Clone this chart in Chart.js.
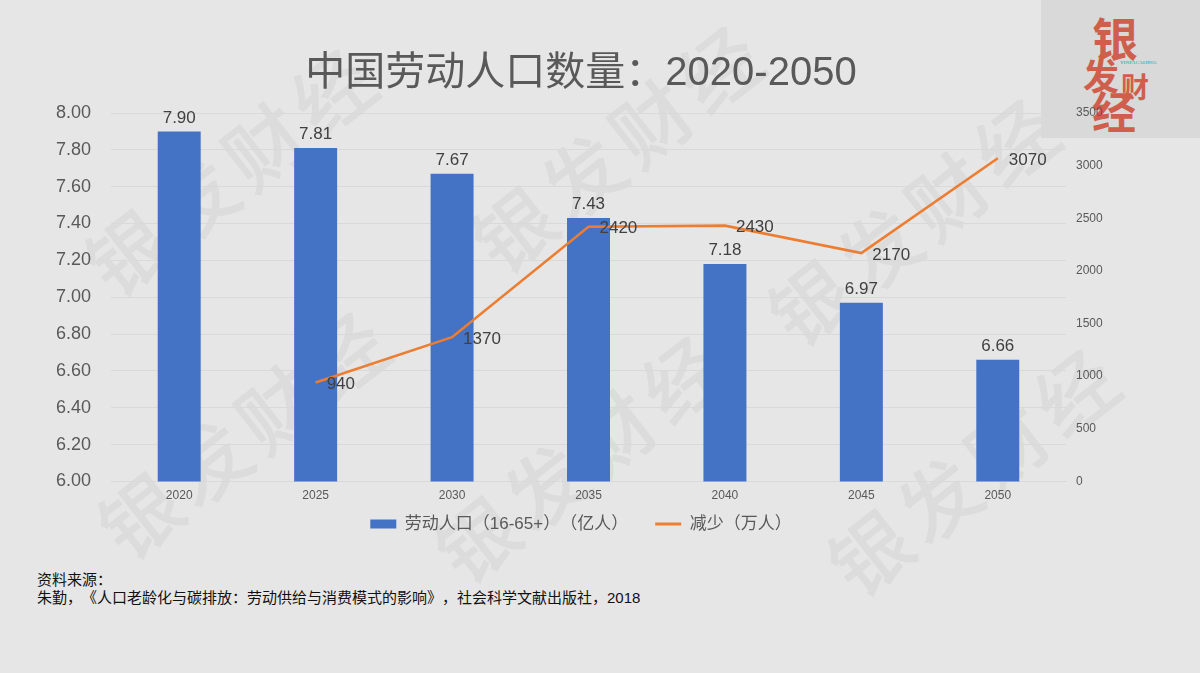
<!DOCTYPE html>
<html lang="zh">
<head>
<meta charset="utf-8">
<title>中国劳动人口数量：2020-2050</title>
<script src="https://cdn.jsdelivr.net/npm/chart.js@4"></script>
<style>
    html, body { margin: 0; padding: 0; width: 1200px; height: 673px; overflow: hidden; background: #e6e6e6; }
    body { position: relative; font-family: "Liberation Sans", "Noto Sans CJK SC", sans-serif; text-spacing-trim: space-all; }
    canvas { position: absolute; left: 0; top: 0; text-spacing-trim: space-all; }
    .wm { position: absolute; font-size: 78px; line-height: 78px; letter-spacing: 9px; color: #dcdcdc; -webkit-text-stroke: 1.5px #dcdcdc; white-space: nowrap; transform: rotate(-38deg); transform-origin: 0 50%; font-family: "Noto Sans CJK SC", sans-serif; }
    #logo { position: absolute; left: 1041px; top: 0; width: 159px; height: 138px; background: #d9d9d9; overflow: hidden; }
    #logo span { position: absolute; color: #cf5f4c; font-family: "Noto Sans CJK SC", sans-serif; font-weight: 700; line-height: 1; }
    #logo .en { color: #4fb3b0; font-family: "Liberation Serif", serif; font-size: 5px; font-weight: 700; }
    #source { position: absolute; left: 37px; top: 571px; font-size: 15px; line-height: 17.5px; color: #111; }
</style>
</head>
<body>
<div class="wm" style="left:94px;top:235px">银发财经</div>
<div class="wm" style="left:107px;top:498px">银发财经</div>
<div class="wm" style="left:481px;top:212px">银发财经</div>
<div class="wm" style="left:444px;top:522px">银发财经</div>
<div class="wm" style="left:777px;top:285px">银发财经</div>
<div class="wm" style="left:837px;top:535px">银发财经</div>
<div id="logo">
    <span style="left:51px;top:13px;font-size:46px">银</span>
    <span style="left:42px;top:56px;font-size:36px">发</span>
    <span style="left:80px;top:72px;font-size:28px">财</span>
    <span style="left:51px;top:88px;font-size:44px">经</span>
    <span class="en" style="left:79px;top:60px">YINFACAIJING</span>
</div>
<canvas id="laborChart" width="1162" height="561"></canvas>
<div id="source">资料来源：<br>朱勤，《人口老龄化与碳排放：劳动供给与消费模式的影响》，社会科学文献出版社，2018</div>

<script>
const years = ['2020', '2025', '2030', '2035', '2040', '2045', '2050'];
const laborForce = [7.90, 7.81, 7.67, 7.43, 7.18, 6.97, 6.66];
const decrease = [null, 940, 1370, 2420, 2430, 2170, 3070];

const CJK_FONT = '"Liberation Sans", "Noto Sans CJK SC", sans-serif';
const TEXT_GREY = '#595959';
const LABEL_DARK = '#404040';

// Legend padding also sets the gap between items, so pull the box back up under the axis
const legendShift = {
    id: 'legendShift',
    afterLayout(chart) {
        const legend = chart.legend;
        const shift = legend.top - (chart.chartArea.bottom + 7);
        legend.top -= shift;
        legend.bottom -= shift;
    }
};

// Value labels: above the bars, to the right of the line points
const valueLabels = {
    id: 'valueLabels',
    afterDatasetsDraw(chart) {
        const ctx = chart.ctx;
        ctx.save();
        ctx.font = '17px ' + CJK_FONT;
        ctx.fillStyle = LABEL_DARK;

        ctx.textAlign = 'center';
        ctx.textBaseline = 'bottom';
        chart.getDatasetMeta(1).data.forEach((bar, i) => {
            ctx.fillText(laborForce[i].toFixed(2), bar.x, bar.y - 5);
        });

        ctx.textAlign = 'left';
        ctx.textBaseline = 'middle';
        chart.getDatasetMeta(0).data.forEach((pt, i) => {
            if (decrease[i] !== null) {
                ctx.fillText(String(decrease[i]), pt.x + 11, pt.y + 2);
            }
        });
        ctx.restore();
    }
};

new Chart(document.getElementById('laborChart'), {
    type: 'bar',
    data: {
        labels: years,
        datasets: [
            {
                type: 'line',
                label: '减少（万人）',
                data: decrease,
                yAxisID: 'yRight',
                borderColor: '#ed7d31',
                backgroundColor: '#ed7d31',
                borderWidth: 2.6,
                pointRadius: 0,
                tension: 0,
                order: 1
            },
            {
                label: '劳动人口（16-65+）（亿人）',
                data: laborForce,
                yAxisID: 'yLeft',
                backgroundColor: '#4472c4',
                barPercentage: 0.63,
                categoryPercentage: 0.5,
                order: 2
            }
        ]
    },
    options: {
        responsive: false,
        animation: false,
        layout: { padding: 0 },
        plugins: {
            title: {
                display: true,
                text: '中国劳动人口数量：2020-2050',
                color: TEXT_GREY,
                font: { family: CJK_FONT, size: 40, weight: 'normal' },
                padding: { top: 50, bottom: 15 }
            },
            legend: {
                position: 'bottom',
                labels: {
                    color: TEXT_GREY,
                    font: { family: CJK_FONT, size: 17 },
                    usePointStyle: true,
                    pointStyleWidth: 26,
                    boxHeight: 9,
                    padding: 27,
                    generateLabels(chart) {
                        return [1, 0].map(i => {
                            const ds = chart.data.datasets[i];
                            return {
                                text: ds.label,
                                fontColor: TEXT_GREY,
                                fillStyle: ds.backgroundColor,
                                strokeStyle: ds.backgroundColor,
                                lineWidth: i === 0 ? 3 : 0,
                                pointStyle: i === 0 ? 'line' : 'rect',
                                datasetIndex: i
                            };
                        });
                    }
                }
            },
            tooltip: { enabled: false }
        },
        scales: {
            x: {
                grid: { display: false, drawTicks: false },
                border: { color: '#d9d9d9' },
                ticks: { color: TEXT_GREY, font: { family: CJK_FONT, size: 12 }, padding: 7, maxRotation: 0 },
                afterFit(scale) { scale.height = 25.6; }
            },
            yLeft: {
                position: 'left',
                min: 6,
                max: 8,
                grid: { color: '#d9d9d9', drawTicks: false },
                border: { display: false },
                ticks: {
                    stepSize: 0.2,
                    color: TEXT_GREY,
                    font: { family: CJK_FONT, size: 18 },
                    padding: 20,
                    callback: v => v.toFixed(2)
                },
                afterFit(scale) { scale.width = 111; }
            },
            yRight: {
                position: 'right',
                min: 0,
                max: 3500,
                grid: { display: false, drawTicks: false },
                border: { display: false },
                ticks: {
                    stepSize: 500,
                    color: TEXT_GREY,
                    font: { family: CJK_FONT, size: 12 },
                    padding: 10,
                    callback: v => String(v)
                },
                afterFit(scale) { scale.width = 96; }
            }
        }
    },
    plugins: [legendShift, valueLabels]
});
</script>
</body>
</html>
